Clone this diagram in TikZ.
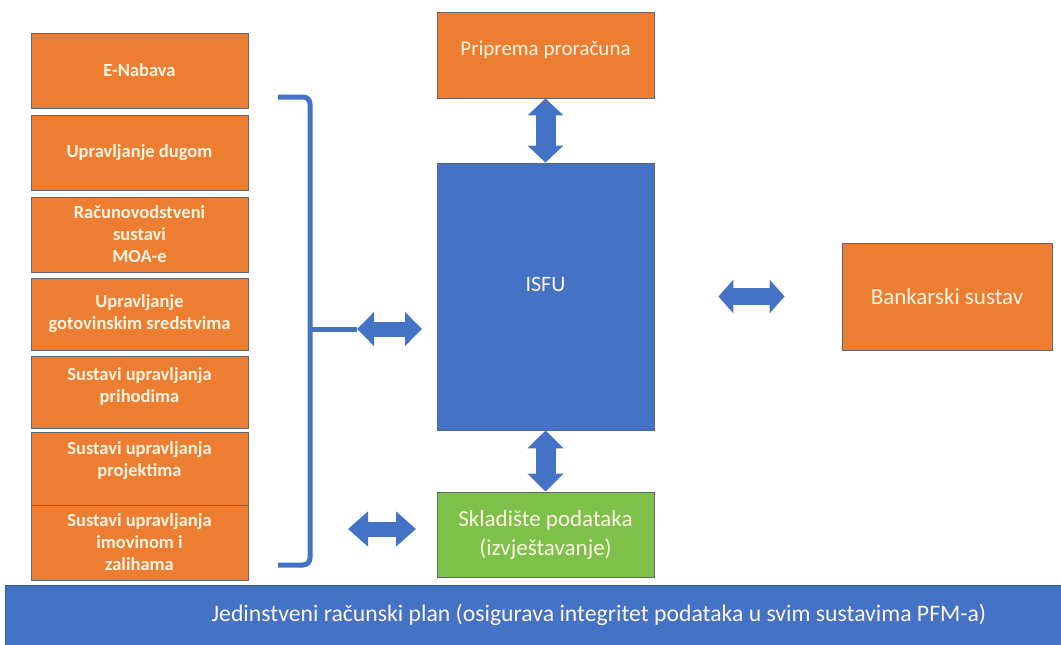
\documentclass[tikz,border=0pt]{standalone}
\usepackage{fontspec}
\setmainfont{Carlito}
\usetikzlibrary{arrows.meta}
\definecolor{orng}{HTML}{ED7D31}
\definecolor{blu}{HTML}{4472C4}
\definecolor{grn}{HTML}{7DC14A}
\definecolor{edgec}{HTML}{5F6670}
\definecolor{cream}{HTML}{FFF4E2}
\begin{document}
\begin{tikzpicture}[x=1pt,y=-1pt,
  blk/.style={draw=edgec, line width=0.9pt, text=cream, align=center, inner sep=2pt},
  obox/.style={blk, fill=orng},
  lbox/.style={obox, minimum width=217pt, font=\fontsize{18.5}{22}\selectfont\bfseries},
  fat/.style n args={3}{draw=blu, line width=#1,
     {Triangle[length=#3, width=#2]}-{Triangle[length=#3, width=#2]}},
  brc/.style={draw=blu, line width=5pt, rounded corners=7pt}
]
\useasboundingbox (0,0) rectangle (1061,645);
% left column
\node[lbox, minimum height=75pt] (enab) at (139.5,70.5) {E-Nabava};
\node[lbox, minimum height=75pt] (dug) at (139.5,152.5) {Upravljanje dugom};
\node[lbox, minimum height=75pt] (rac) at (139.5,234.5) {Računovodstveni\\sustavi\\MOA-e};
\node[lbox, minimum height=72pt] (got) at (139.5,314) {Upravljanje\\gotovinskim sredstvima};
\node[lbox, minimum height=72pt, text depth=14pt] (pri) at (139.5,392) {Sustavi upravljanja\\prihodima};
\node[lbox, minimum height=73pt, text depth=18pt] (proj) at (139.5,468.5) {Sustavi upravljanja\\projektima};
\node[lbox, minimum height=75pt] (imo) at (139.5,542.5) {Sustavi upravljanja\\imovinom i\\zalihama};
% centre column
\node[obox, minimum width=217pt, minimum height=86pt, font=\fontsize{21}{25}\selectfont, text depth=14pt] (prip) at (545.5,55) {Priprema proračuna};
\node[blk, fill=blu, minimum width=217pt, minimum height=267pt, font=\fontsize{22}{26}\selectfont, text depth=24pt] (isfu) at (545.5,296.5) {ISFU};
\node[blk, fill=grn, minimum width=217pt, minimum height=85pt, font=\fontsize{23}{29}\selectfont] (skl) at (545.5,534.5) {Skladište podataka\\(izvještavanje)};
% right
\node[obox, minimum width=210pt, minimum height=107pt, font=\fontsize{23}{27}\selectfont] (bank) at (947,296.5) {Bankarski sustav};
% bottom bar
\node[blk, fill=blu, draw=blu!80!black, minimum width=1062pt, minimum height=60pt, font=\fontsize{23.7}{28}\selectfont] (plan) at (536,615) {\hspace*{126pt}Jedinstveni računski plan (osigurava integritet podataka u svim sustavima PFM-a)};
% brace
\coordinate (bt) at (278,97);
\coordinate (bb) at (278,565);
\coordinate (bm) at (310,329);
\coordinate (ba) at (357,329);
\draw[brc] (bt) -- (310,97) -- (310,565) -- (bb);
\draw[draw=blu, line width=5pt] (bm) -- (ba);
% arrows
\coordinate (ae) at (422,329);
\draw[fat={15pt}{33pt}{17pt}] (ba) -- (ae);
\draw[fat={20pt}{35pt}{17pt}] (prip.south) -- (isfu.north);
\draw[fat={20pt}{35pt}{18pt}] (isfu.south) -- (skl.north);
\coordinate (ga) at (348,529);
\coordinate (gb) at (416,529);
\draw[fat={15pt}{34pt}{20pt}] (ga) -- (gb);
\draw[fat={17pt}{33pt}{15pt}, shorten <=64pt, shorten >=57pt] (isfu.east |- bank.west) -- (bank.west);
\end{tikzpicture}
\end{document}
